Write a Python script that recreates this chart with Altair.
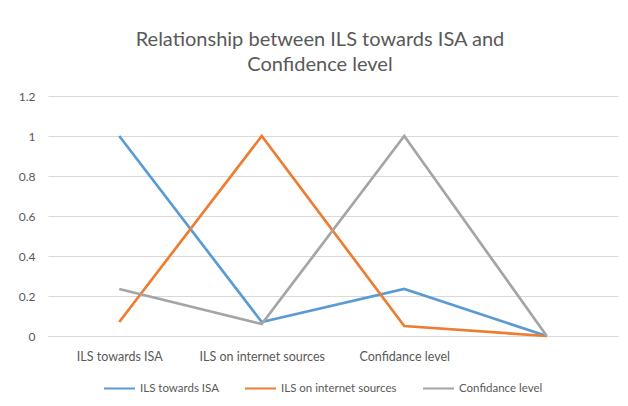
import altair as alt
import pandas as pd

categories = ["ILS towards ISA", "ILS on internet sources", "Confidance level", ""]
series_names = ["ILS towards ISA", "ILS on internet sources", "Confidance level"]
ils_towards_isa = [1.0, 0.07, 0.235, 0.0]
ils_internet = [0.07, 1.0, 0.05, 0.0]
confidance = [0.235, 0.06, 1.0, 0.0]
colors = ["#5B9BD5", "#ED7D31", "#A5A5A5"]
y_ticks = [0, 0.2, 0.4, 0.6, 0.8, 1.0, 1.2]

rows = []
for name, vals in zip(series_names, [ils_towards_isa, ils_internet, confidance]):
    for i, (c, v) in enumerate(zip(categories, vals)):
        rows.append({"cat": c, "idx": i, "series": name, "value": v})
df = pd.DataFrame(rows)

FONT = "Lato"
TXT = "#595959"

chart = alt.Chart(df).mark_line(strokeWidth=2.7).encode(
    x=alt.X("cat:O", sort=categories, title=None,
            scale=alt.Scale(padding=0.5),
            axis=alt.Axis(labelAngle=0, labelFont=FONT, labelFontSize=12.5, labelColor=TXT,
                          ticks=False, domain=True, domainColor="#d9d9d9", labelPadding=14,
                          grid=False)),
    y=alt.Y("value:Q", title=None,
            scale=alt.Scale(domain=[0, 1.2], nice=False),
            axis=alt.Axis(values=y_ticks, labelFont=FONT, labelFontSize=12, labelColor=TXT,
                          ticks=False, domain=False, gridColor="#d9d9d9", gridWidth=1,
                          labelPadding=13, labelExpr="format(datum.value, '~g')")),
    color=alt.Color("series:N", sort=series_names,
                    scale=alt.Scale(domain=series_names, range=colors),
                    legend=alt.Legend(title=None, orient="none", direction="horizontal",
                                      legendX=55, legendY=276, symbolType="stroke",
                                      symbolSize=961, symbolStrokeWidth=2,
                                      labelFont=FONT, labelFontSize=11.5, labelColor=TXT,
                                      labelOffset=4, columnPadding=22)),
    detail="series:N",
    order="idx:Q",
).properties(
    width=570, height=240,
    title=alt.Title(["Relationship between ILS towards ISA and", "Confidence level"],
                    font=FONT, fontSize=20, fontWeight="normal", color=TXT,
                    lineHeight=25, offset=15, dx=-13, anchor="middle"),
    autosize=alt.AutoSizeParams(type="none"),
    padding={"left": 40, "top": 88, "right": 2, "bottom": 62},
).configure(background="white").configure_view(stroke=None)

chart.save("out.html", embed_options={"renderer": "svg", "actions": False})
